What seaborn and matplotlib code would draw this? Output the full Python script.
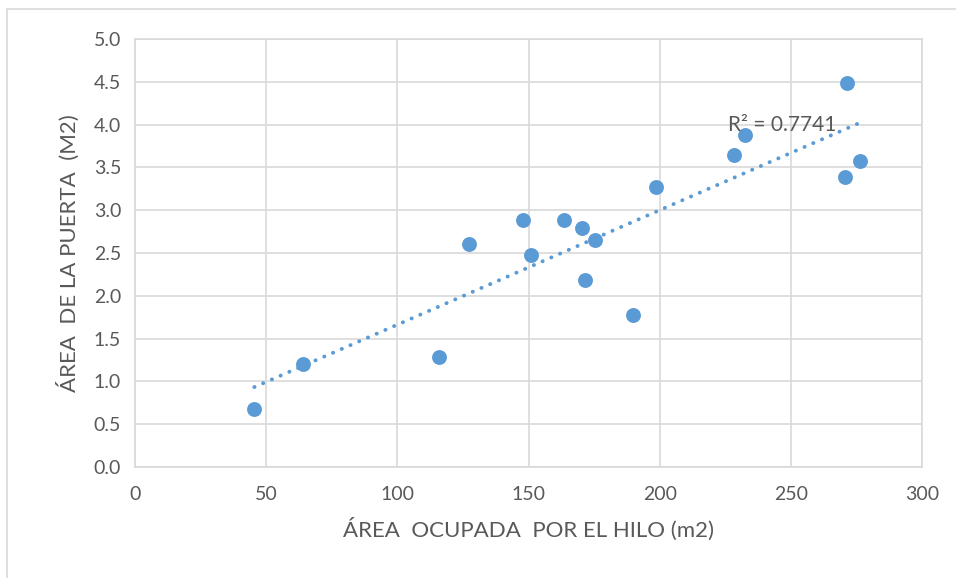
import numpy as np
import pandas as pd
import matplotlib
matplotlib.use("Agg")
import matplotlib.pyplot as plt
import seaborn as sns
from matplotlib.patches import Rectangle

# values
area_hilo = [45.5, 64, 116, 127.5, 148, 151, 163.5, 170.5, 171.5, 175.5,
             190, 198.5, 228.5, 232.5, 270.5, 271.5, 276.5]
area_puerta = [0.68, 1.20, 1.29, 2.60, 2.88, 2.48, 2.88, 2.79, 2.18, 2.65,
               1.78, 3.27, 3.65, 3.88, 3.39, 4.49, 3.58]
x_ticks = [0, 50, 100, 150, 200, 250, 300]
y_ticks = [0.0, 0.5, 1.0, 1.5, 2.0, 2.5, 3.0, 3.5, 4.0, 4.5, 5.0]
r2_label = "R² = 0.7741"

df = pd.DataFrame({"x": area_hilo, "y": area_puerta})

sns.set_theme(style="white")
plt.rcParams['font.family'] = ['Lato', 'DejaVu Sans']

blue = "#5B9BD5"
grey = "#595959"
grid = "#D9D9D9"

fig = plt.figure(figsize=(9.56, 5.78), dpi=100)
ax = fig.add_axes([135 / 956, 1 - 467 / 578, (922 - 135) / 956, (467 - 39) / 578])

# outer chart border
fig.patches.append(Rectangle((7 / 956, -0.05), 1.1, 1 - 9 / 578 + 0.05,
                             transform=fig.transFigure, fill=False,
                             edgecolor=grid, linewidth=1.2))

sns.scatterplot(data=df, x="x", y="y", ax=ax, color=blue, s=115,
                edgecolor=blue, linewidth=0, zorder=3)

# linear trendline
slope, intercept = np.polyfit(df["x"], df["y"], 1)
xs = np.array([df["x"].min(), df["x"].max()])
ax.plot(xs, slope * xs + intercept, linestyle=(0, (0.05, 2.4)), color=blue,
        linewidth=2.8, dash_capstyle="round", zorder=2)
ax.text(226, 4.0, r2_label, fontsize=15, color=grey, va="center", ha="left")

ax.set_xlim(0, 300)
ax.set_ylim(0, 5)
ax.set_xticks(x_ticks)
ax.set_yticks(y_ticks)
ax.set_yticklabels([f"{v:.1f}" for v in y_ticks])
ax.grid(True, color=grid, linewidth=1.2)
ax.set_axisbelow(True)
for name, sp in ax.spines.items():
    sp.set_visible(True)
    sp.set_color(grid)
    sp.set_linewidth(1.2)
ax.tick_params(axis="both", length=0, labelsize=14, labelcolor=grey)
ax.tick_params(axis="x", pad=14)
ax.tick_params(axis="y", pad=10)
ax.set_xlabel("ÁREA  OCUPADA  POR EL HILO (m2)", fontsize=16, color=grey, labelpad=10)
ax.set_ylabel("ÁREA  DE LA PUERTA  (M2)", fontsize=16, color=grey, labelpad=10)

fig.savefig("out.png", dpi=100)
